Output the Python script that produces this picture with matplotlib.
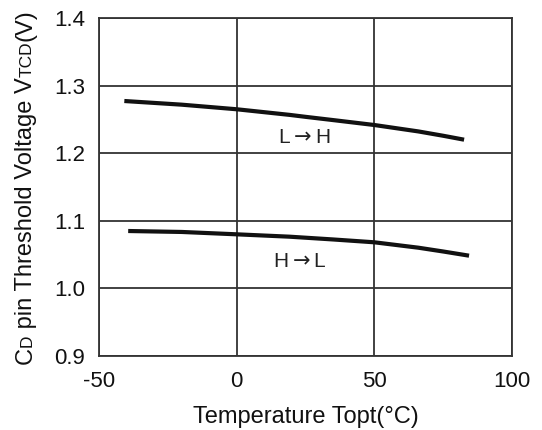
import numpy as np
import matplotlib
matplotlib.use('Agg')
import matplotlib.pyplot as plt

plt.rcParams['font.family'] = ['Liberation Sans', 'DejaVu Sans']
plt.rcParams['mathtext.fontset'] = 'dejavusans'

# values
temp_lh = [-40.8, -20, 0, 19.2, 25, 35, 50, 66, 75, 82.6]
vtcd_lh = [1.2772, 1.2718, 1.2650, 1.2567, 1.2538, 1.2490, 1.2417, 1.2322, 1.2258, 1.2200]
temp_hl = [-39.4, -20, 0, 19.2, 35, 50, 66, 75, 84.4]
vtcd_hl = [1.0849, 1.0835, 1.0800, 1.0765, 1.0724, 1.0682, 1.0602, 1.0546, 1.0484]

xticks = [-50, 0, 50, 100]
yticks = [0.9, 1.0, 1.1, 1.2, 1.3, 1.4]

W, H = 542, 430
fig = plt.figure(figsize=(W / 100, H / 100), dpi=100)
ax = fig.add_axes([99 / W, 1 - 356 / H, (512 - 99) / W, (356 - 18) / H])

ax.plot(temp_lh, vtcd_lh, color='#111111', lw=3.0, solid_capstyle='butt')
ax.plot(temp_hl, vtcd_hl, color='#111111', lw=3.0, solid_capstyle='butt')

ax.text(24.6, 1.223, r'L$\rightarrow$H', fontsize=15, ha='center', va='center', color='#222222')
ax.text(22.8, 1.0405, r'H$\rightarrow$L', fontsize=15, ha='center', va='center', color='#222222')

ax.set_xlim(-50, 100)
ax.set_ylim(0.9, 1.4)
ax.set_xticks(xticks)
ax.set_xticklabels(['-50', '0', '50', '100'])
ax.set_yticks(yticks)
ax.set_yticklabels(['%.1f' % v for v in yticks])
ax.tick_params(length=0, labelsize=16, colors='#111111')
ax.tick_params(axis='x', pad=11)
ax.tick_params(axis='y', pad=10)
ax.grid(True, color='#333333', lw=1.3)
for s in ax.spines.values():
    s.set_color('#333333')
    s.set_linewidth(1.3)

ax.set_xlabel('Temperature Topt(\u00b0C)', fontsize=17, labelpad=10, color='#111111')

# y label built from pieces (small caps for subscripts)
pieces = [('C', 17), ('D', 12.5), (' pin Threshold Voltage V', 17), ('TCD', 12.5), ('(V)', 17)]
fig.canvas.draw()
r = fig.canvas.get_renderer()
texts = []
for s, fs in pieces:
    t = fig.text(0, 0, s, fontsize=fs, rotation=90, rotation_mode='anchor',
                 ha='left', va='baseline', color='#111111')
    texts.append(t)
lengths = [t.get_window_extent(r).height for t in texts]
total = sum(lengths)
y = (H - 187) - total / 2
for t, L in zip(texts, lengths):
    t.set_position((32 / W, y / H))
    y += L

fig.savefig('out.png', dpi=100)
